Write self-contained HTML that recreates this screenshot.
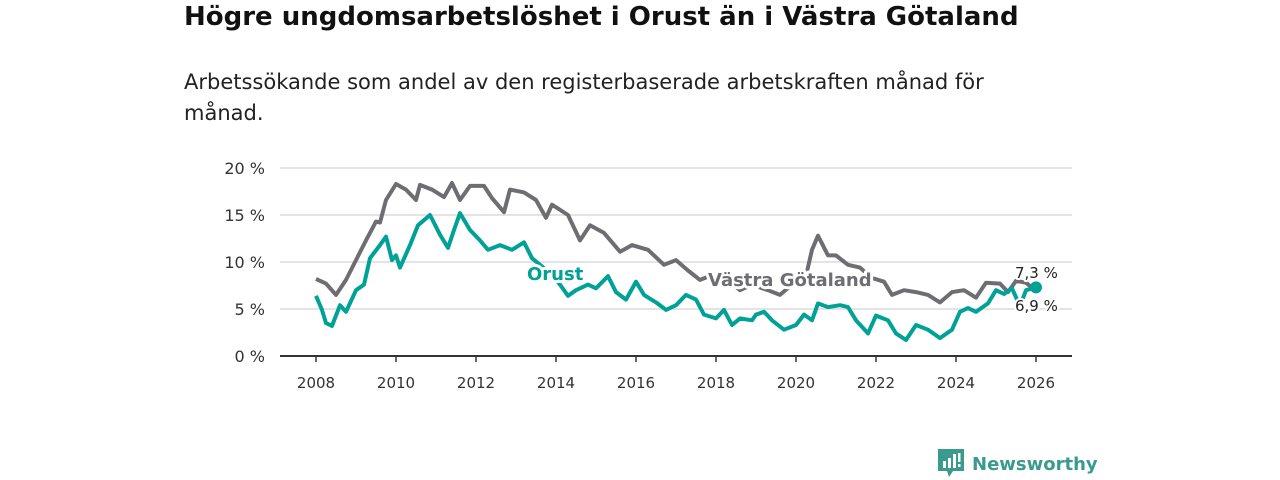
<!DOCTYPE html>
<html><head><meta charset="utf-8"><style>
body{margin:0;width:1280px;height:480px;background:#fff;font-family:"DejaVu Sans","Liberation Sans",sans-serif;overflow:hidden;position:relative}
h1{position:absolute;left:184px;top:2px;margin:0;font-size:26px;font-weight:bold;color:#111}
p.sub{position:absolute;left:184px;top:67px;margin:0;font-size:21px;line-height:31px;color:#222;width:850px}
svg{position:absolute;left:0;top:0}
.logo{position:absolute;left:938px;top:449px;display:flex;align-items:center;color:#3a9a8e;font-size:18px;font-weight:bold}
</style></head><body>
<h1>Högre ungdomsarbetslöshet i Orust än i Västra Götaland</h1>
<p class="sub">Arbetssökande som andel av den registerbaserade arbetskraften månad för månad.</p>
<svg id="chart" width="1280" height="480"></svg>
<div class="logo">
<svg style="position:static" width="26" height="30" viewBox="0 0 26 30"><path d="M0 0H26V22H15L11 28L9 22H0Z" fill="#3a9a8e"/><rect x="5" y="12" width="3" height="7" fill="#fff"/><rect x="10" y="9" width="3" height="10" fill="#fff"/><rect x="15" y="5" width="3" height="14" fill="#fff"/><rect x="20" y="4" width="2.5" height="9" fill="#fff"/><rect x="20" y="15" width="2.5" height="3" fill="#fff"/></svg>
<span style="margin-left:8px">Newsworthy</span></div>
<script>
const yTicks=[0,5,10,15,20];
const xTicks=[2008,2010,2012,2014,2016,2018,2020,2022,2024,2026];
const vgT=[2008.0,2008.25,2008.5,2008.75,2009.0,2009.25,2009.5,2009.6,2009.75,2010.0,2010.25,2010.5,2010.6,2010.9,2011.2,2011.4,2011.6,2011.85,2012.2,2012.4,2012.7,2012.85,2013.2,2013.5,2013.75,2013.9,2014.3,2014.6,2014.85,2015.2,2015.6,2015.9,2016.3,2016.7,2017.0,2017.3,2017.6,2017.9,2018.3,2018.6,2018.9,2019.3,2019.6,2019.9,2020.2,2020.4,2020.55,2020.8,2021.0,2021.3,2021.6,2021.9,2022.2,2022.4,2022.7,2023.0,2023.3,2023.6,2023.9,2024.2,2024.5,2024.75,2025.1,2025.3,2025.5,2025.75,2026.0];
const vgV=[8.2,7.7,6.5,8.1,10.2,12.3,14.3,14.2,16.6,18.3,17.7,16.6,18.2,17.7,16.9,18.4,16.6,18.1,18.1,16.8,15.3,17.7,17.4,16.6,14.7,16.1,15.0,12.3,13.9,13.1,11.1,11.8,11.3,9.7,10.2,9.1,8.1,8.6,8.1,7.0,7.6,7.0,6.5,7.6,7.6,11.3,12.8,10.7,10.7,9.7,9.4,8.3,7.9,6.5,7.0,6.8,6.5,5.7,6.8,7.0,6.2,7.8,7.7,6.8,8.0,7.8,6.9];
const orT=[2008.0,2008.15,2008.25,2008.4,2008.6,2008.75,2009.0,2009.2,2009.35,2009.6,2009.75,2009.9,2010.0,2010.1,2010.35,2010.55,2010.85,2011.1,2011.3,2011.45,2011.6,2011.85,2012.1,2012.3,2012.6,2012.9,2013.2,2013.4,2013.6,2013.9,2014.1,2014.3,2014.5,2014.8,2015.0,2015.3,2015.5,2015.75,2016.0,2016.2,2016.5,2016.75,2017.0,2017.25,2017.5,2017.7,2018.0,2018.2,2018.4,2018.6,2018.9,2019.0,2019.2,2019.4,2019.7,2020.0,2020.2,2020.4,2020.55,2020.8,2021.1,2021.3,2021.5,2021.8,2022.0,2022.3,2022.5,2022.75,2023.0,2023.3,2023.6,2023.9,2024.1,2024.3,2024.5,2024.8,2025.0,2025.2,2025.4,2025.6,2025.75,2026.0];
const orV=[6.4,4.9,3.5,3.2,5.4,4.7,7.0,7.6,10.4,11.8,12.7,10.2,10.7,9.4,11.8,13.9,15.0,12.9,11.5,13.4,15.2,13.4,12.3,11.3,11.8,11.3,12.1,10.4,9.7,8.6,7.6,6.4,7.0,7.6,7.2,8.5,6.8,6.0,7.9,6.5,5.7,4.9,5.4,6.5,6.0,4.4,4.0,4.9,3.3,4.0,3.8,4.4,4.7,3.8,2.8,3.3,4.4,3.8,5.6,5.2,5.4,5.2,3.8,2.4,4.3,3.8,2.4,1.7,3.3,2.8,1.9,2.8,4.7,5.1,4.7,5.6,7.0,6.6,7.2,5.3,7.0,7.3];
const NS="http://www.w3.org/2000/svg";
const svg=document.getElementById('chart');
const X=t=>316+(t-2008)*40;
const Y=v=>356-v*9.4;
function mk(tag,attrs){const e=document.createElementNS(NS,tag);for(const k in attrs)e.setAttribute(k,attrs[k]);svg.appendChild(e);return e;}
yTicks.forEach(v=>{
  if(v>0){const g=mk('line',{x1:280,x2:1072,y1:Y(v),y2:Y(v),stroke:'#dcdcdc','stroke-width':1.5});
  
  }
  const t=mk('text',{x:265,y:Y(v)+6,'text-anchor':'end','font-size':16,fill:'#333'});t.textContent=v+' %';
  
  
});
const ax=mk('line',{x1:280,x2:1072,y1:356,y2:356,stroke:'#333','stroke-width':2});


xTicks.forEach(yr=>{
  const l=mk('line',{x1:X(yr),x2:X(yr),y1:356,y2:362,stroke:'#333','stroke-width':1.5});
  
  
  const t=mk('text',{x:X(yr),y:388,'text-anchor':'middle','font-size':15,fill:'#333'});t.textContent=yr;
  
  
});
function line(T,V,col,name){
  const d=T.map((t,i)=>(i?'L':'M')+X(t).toFixed(1)+' '+Y(V[i]).toFixed(1)).join('');
  const p=mk('path',{d:d,fill:'none',stroke:col,'stroke-width':4,'stroke-linejoin':'round'});
  
  
}
line(vgT,vgV,'#6e6d72','line-vastra-gotaland');
line(orT,orV,'#00a196','line-orust');
const d1=mk('circle',{cx:X(orT[orT.length-1]),cy:Y(orV[orV.length-1]),r:6,fill:'#00a196'});


function lab(x,y,txt,col,size,bold,name){
  const t=mk('text',{x:x,y:y,'font-size':size,fill:col,'font-weight':bold?'bold':'normal',stroke:'#fff','stroke-width':bold?6:4,'paint-order':'stroke','stroke-linejoin':'round'});t.textContent=txt;
  
  
}
lab(527,280,'Orust','#00a196',18,true,'label-orust');
lab(708,286,'Västra Götaland','#6e6d72',18,true,'label-vastra-gotaland');
lab(1015,278,'7,3 %','#222',15,false,'end-value-orust');
lab(1015,311,'6,9 %','#222',15,false,'end-value-vastra-gotaland');
</script>
</body></html>
